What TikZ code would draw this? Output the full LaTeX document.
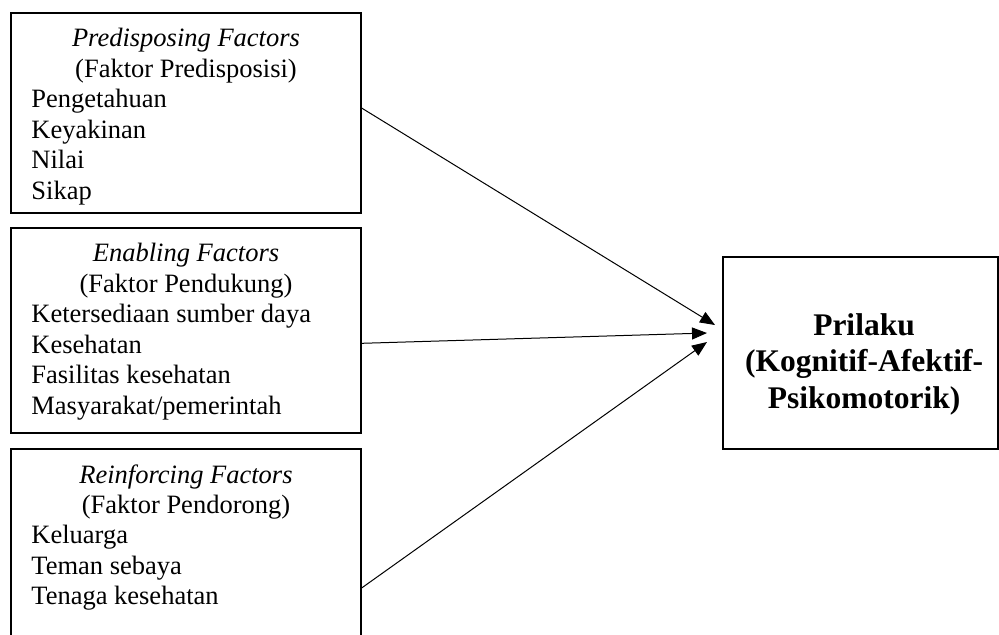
\documentclass[tikz,border=0pt]{standalone}
\usepackage{fontspec}
\setmainfont{Liberation Serif}
\usetikzlibrary{arrows.meta,positioning}
\tikzset{
  kotak/.style={draw, line width=0.6pt, inner sep=0pt},
  judul/.style={anchor=north, inner sep=0pt, align=center, font=\fontsize{13.25}{15.25}\selectfont},
  daftar/.style={anchor=north west, inner sep=0pt, align=left, font=\fontsize{13.25}{15.25}\selectfont},
  tebal/.style={anchor=north, inner sep=0pt, align=center, font=\bfseries\fontsize{15.75}{18.25}\selectfont},
  panah/.style={-{Triangle[length=7.5pt,width=6pt]}, line width=0.5pt},
}

\begin{document}
\begin{tikzpicture}[x=0.5pt,y=-0.5pt]
    \useasboundingbox (0,0) rectangle (999,634);
    % Kotak faktor
    \node[kotak, minimum width=175pt, minimum height=100pt] (pre) at (186,113) {};
    \node[kotak, minimum width=175pt, minimum height=102.5pt] (ena) at (186,330.5) {};
    \node[kotak, minimum width=175pt, minimum height=139pt] (rei) at (186,588) {};
    % Kotak prilaku
    \node[kotak, minimum width=137.5pt, minimum height=96pt] (pri) at (860.5,353) {};
    % Isi kotak
    \node[judul] (preT) at (186,28) {\textit{Predisposing Factors}\\(Faktor Predisposisi)};
    \node[daftar] (preL) at (31,89) {Pengetahuan\\Keyakinan\\Nilai\\Sikap};
    \node[judul] (enaT) at (186,243) {\textit{Enabling Factors}\\(Faktor Pendukung)};
    \node[daftar] (enaL) at (31,304) {Ketersediaan sumber daya\\Kesehatan\\Fasilitas kesehatan\\Masyarakat/pemerintah};
    \node[judul] (reiT) at (186,464) {\textit{Reinforcing Factors}\\(Faktor Pendorong)};
    \node[daftar] (reiL) at (31,525) {Keluarga\\Teman sebaya\\Tenaga kesehatan};
    \node[tebal] (priT) at (864,313) {Prilaku\\(Kognitif-Afektif-\\Psikomotorik)};
    % Ujung panah
    \coordinate (t1) at (715,325);
    \coordinate (t2) at (707,333);
    \coordinate (t3) at (707,342);
    % Panah
    \draw[panah] ([yshift=2.5pt]pre.east) -- (t1);
    \draw[panah] ([yshift=-6.4pt]ena.east) -- (t2);
    \draw[panah] (rei.east) -- (t3);
\end{tikzpicture}
\end{document}
